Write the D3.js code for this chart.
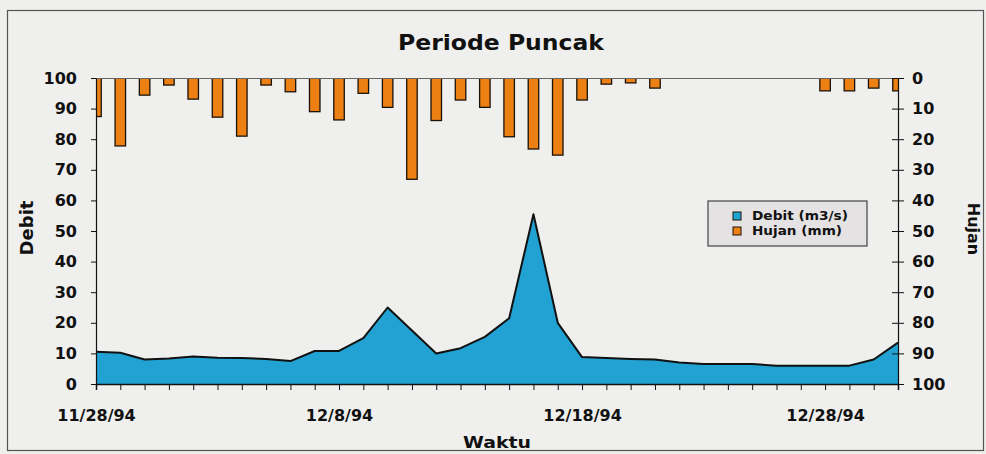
<!DOCTYPE html>
<html>
<head>
<meta charset="utf-8">
<script src="https://cdn.jsdelivr.net/npm/d3@7"></script>
<style>
  body { margin: 0; background: #efefed; }
  svg { display: block; font-family: "DejaVu Sans", sans-serif; font-weight: bold; }
  .axis text { font-family: "DejaVu Sans", sans-serif; font-size: 16px; font-weight: bold; fill: #111; }
  .axis path, .axis line { stroke: #111; }
</style>
</head>
<body>
<svg id="chart" width="986" height="454"></svg>
<script>
//Dates (one per day) and the two series
let startDate = "1994-11-28";
let dayCount = 34;
let debit = [10.5, 10.2, 8, 8.3, 9, 8.6, 8.5, 8.2, 7.5, 10.8, 10.8, 15, 25, 17.5, 10, 11.7, 15.4,
             21.5, 55.5, 20, 8.8, 8.5, 8.2, 8, 7, 6.5, 6.5, 6.5, 6, 6, 6, 6, 8, 13.5];
let hujan = [12.6, 22.2, 5.6, 2.3, 6.9, 12.8, 19, 2.3, 4.5, 11, 13.7, 5, 9.6, 33.1, 13.9, 7.2, 9.6,
             19.2, 23.2, 25.2, 7.2, 2, 1.6, 3.3, 0, 0, 0, 0, 0, 0, 4.2, 4.2, 3.3, 4.2];
//Tick values for both value axes
let leftTicks = [0, 10, 20, 30, 40, 50, 60, 70, 80, 90, 100];
let rightTicks = [0, 10, 20, 30, 40, 50, 60, 70, 80, 90, 100];
let legendItems = ["Debit (m3/s)", "Hujan (mm)"];

//Plot area bounds
let margin = { top: 78, right: 88, bottom: 70, left: 96 };
let width = 986 - margin.left - margin.right;
let height = 454 - margin.top - margin.bottom;

let start = d3.timeParse("%Y-%m-%d")(startDate);
let dates = d3.timeDay.range(start, d3.timeDay.offset(start, dayCount));

let svg = d3.select("#chart");

//outer frame of the chart
svg.append("rect").attr("x", 7.5).attr("y", 10.5).attr("width", 976).attr("height", 440)
  .attr("fill", "none").attr("stroke", "#555").attr("stroke-width", 1.2);

//Initialize scales
let x = d3.scaleTime().domain([dates[0], dates[dates.length - 1]]).range([0, width]);
let y = d3.scaleLinear().domain([0, 100]).range([height, 0]);
let y2 = d3.scaleLinear().domain([0, 100]).range([0, height]);

let g = svg.append("g").attr("transform", "translate(" + margin.left + "," + margin.top + ")");

//clip bars and area to the plot
g.append("clipPath").attr("id", "plotclip")
  .append("rect").attr("x", 0).attr("y", 0).attr("width", width).attr("height", height);

//Debit area
let area = d3.area()
  .x(function (d, i) { return x(dates[i]); })
  .y0(height)
  .y1(function (d) { return y(d); });
let line = d3.line()
  .x(function (d, i) { return x(dates[i]); })
  .y(function (d) { return y(d); });

g.append("path").datum(debit)
  .attr("fill", "#21a2d2")
  .attr("d", area);
g.append("path").datum(debit)
  .attr("fill", "none").attr("stroke", "#111").attr("stroke-width", 2)
  .attr("stroke-linejoin", "round")
  .attr("d", line);

//Hujan bars hanging from the top
let barW = 10.5;
g.append("g").attr("clip-path", "url(#plotclip)")
  .selectAll(".bar")
  .data(hujan)
  .enter().append("rect")
  .attr("class", "bar")
  .attr("x", function (d, i) { return x(dates[i]) - barW / 2; })
  .attr("y", y2(0))
  .attr("width", barW)
  .attr("height", function (d) { return y2(d) - y2(0); })
  .attr("fill", function (d) { return d > 0 ? "#ec8012" : "none"; })
  .attr("stroke", function (d) { return d > 0 ? "#1a1208" : "none"; })
  .attr("stroke-width", 1.3);

//thin baseline for the bars
g.append("line").attr("x1", 0).attr("x2", width).attr("y1", 0.5).attr("y2", 0.5)
  .attr("stroke", "#666").attr("stroke-width", 1);

//x axis: a tick every day, a label every ten days
let fmt = d3.timeFormat("%-m/%-d/%y");
let xAxis = g.append("g").attr("class", "axis")
  .attr("transform", "translate(0," + height + ")")
  .call(d3.axisBottom(x).tickValues(dates).tickSize(6).tickPadding(20)
    .tickFormat(function (d, i) { return i % 10 === 0 ? fmt(d) : ""; }));
xAxis.select(".domain").attr("stroke-width", 1.5);

//left axis
let yAxis = g.append("g").attr("class", "axis")
  .call(d3.axisLeft(y).tickValues(leftTicks).tickSize(5).tickPadding(14).tickSizeOuter(0));
yAxis.select(".domain").attr("stroke-width", 1.2);

//right axis, ticks cross the line
let yAxis2 = g.append("g").attr("class", "axis")
  .attr("transform", "translate(" + width + ",0)")
  .call(d3.axisRight(y2).tickValues(rightTicks).tickSize(6).tickPadding(8).tickSizeOuter(0));
yAxis2.selectAll(".tick line").attr("x1", -6);
yAxis2.select(".domain").attr("stroke-width", 1.2);

//Titles
svg.append("text").attr("x", 501).attr("y", 50).attr("text-anchor", "middle")
  .attr("font-size", 21).attr("textLength", 206).attr("lengthAdjust", "spacingAndGlyphs")
  .attr("fill", "#111").text("Periode Puncak");
svg.append("text").attr("x", 497).attr("y", 448).attr("text-anchor", "middle")
  .attr("font-size", 16).attr("textLength", 68).attr("lengthAdjust", "spacingAndGlyphs")
  .attr("fill", "#111").text("Waktu");
svg.append("text").attr("transform", "translate(33,228) rotate(-90)").attr("text-anchor", "middle")
  .attr("font-size", 18).attr("fill", "#111").text("Debit");
svg.append("text").attr("transform", "translate(968,229) rotate(90)").attr("text-anchor", "middle")
  .attr("font-size", 16).attr("fill", "#111").text("Hujan");

//Legend
let legend = svg.append("g").attr("transform", "translate(708,201)");
legend.append("rect").attr("width", 159).attr("height", 45)
  .attr("fill", "#e4e2e2").attr("stroke", "#444").attr("stroke-width", 1.2);
let legendColors = ["#21a2d2", "#ec8012"];
let legendWidths = [96, 90];
legendItems.forEach(function (name, i) {
  legend.append("rect").attr("x", 25).attr("y", 11 + i * 15).attr("width", 8).attr("height", 8)
    .attr("fill", legendColors[i]).attr("stroke", "#1a1208").attr("stroke-width", 1);
  legend.append("text").attr("x", 44).attr("y", 19 + i * 15)
    .attr("font-size", 12.5).attr("textLength", legendWidths[i]).attr("lengthAdjust", "spacingAndGlyphs")
    .attr("fill", "#111").text(name);
});
</script>
</body>
</html>
